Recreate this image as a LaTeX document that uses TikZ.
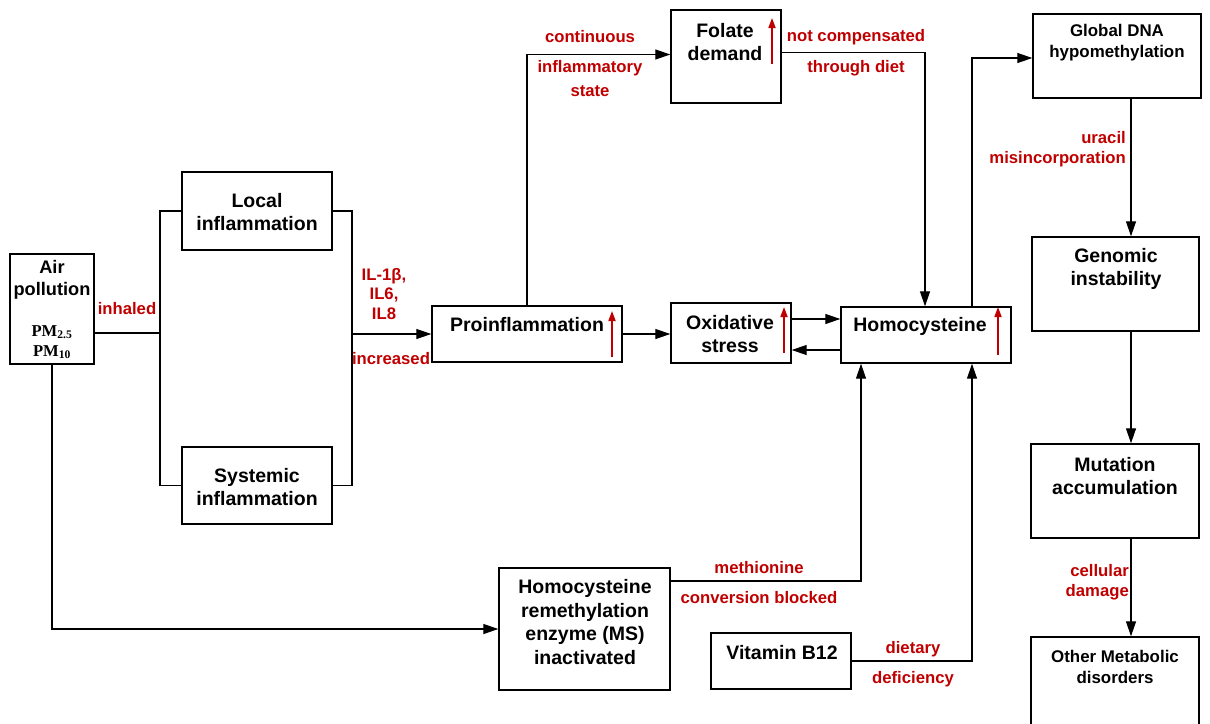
\documentclass[tikz,border=0pt]{standalone}
\usepackage{fontspec}
\setmainfont{Liberation Sans}
\newfontfamily\serifb{Liberation Serif}
\usetikzlibrary{arrows.meta,calc}
\definecolor{lbl}{RGB}{192,0,0}
\begin{document}
\begin{tikzpicture}[x=1pt,y=-1pt,
 box/.style={draw,line width=1.4pt,inner sep=0pt,fill=white},
 con/.style={line width=1.2pt},
 arr/.style={con,-{Triangle[length=15pt,width=10pt]}},
 upa/.style={draw=lbl,line width=1.7pt,-{Triangle[length=10pt,width=7pt]}},
 txt/.style={font=\fontsize{19.5}{23}\selectfont\bfseries,align=center,inner sep=0pt},
 stxt/.style={font=\fontsize{16.9}{21}\selectfont\bfseries,align=center,inner sep=0pt},
 rlab/.style={text=lbl,font=\fontsize{16.7}{19.5}\selectfont\bfseries,align=center,inner sep=0pt}]
\useasboundingbox (0,0) rectangle (1210,723);
\clip (0,0) rectangle (1210,723);

% boxes
\node[box,minimum width=84pt,minimum height=110pt] (air) at (52,309) {};
\node[box,minimum width=150pt,minimum height=78pt] (loc) at (257,211) {};
\node[box,minimum width=150pt,minimum height=77pt] (sys) at (257,485.5) {};
\node[box,minimum width=190pt,minimum height=56pt] (pro) at (527,334) {};
\node[box,minimum width=110pt,minimum height=93pt] (fol) at (726,56.5) {};
\node[box,minimum width=120pt,minimum height=60pt] (oxi) at (731,333) {};
\node[box,minimum width=170pt,minimum height=56pt] (hom) at (926,335) {};
\node[box,minimum width=168pt,minimum height=84pt] (glo) at (1117,56) {};
\node[box,minimum width=167pt,minimum height=94pt] (gen) at (1115.5,284) {};
\node[box,minimum width=168pt,minimum height=94pt] (mut) at (1115,491) {};
\node[box,minimum width=168pt,minimum height=100pt] (oth) at (1115,687) {};
\node[box,minimum width=171pt,minimum height=122pt] (rem) at (584.5,629) {};
\node[box,minimum width=140pt,minimum height=56pt] (vit) at (781,661) {};

% box texts
\node[txt,font=\fontsize{18.2}{22}\selectfont\bfseries] (airt) at (52,280) {Air\\pollution};
\node[txt,font=\fontsize{16.6}{20}\selectfont\serifb\bfseries] (pmt) at (52,342) {PM\textsubscript{2.5}\\PM\textsubscript{10}};
\node[txt] (loct) at (257,212) {Local\\inflammation};
\node[txt] (syst) at (257,487) {Systemic\\inflammation};
\node[txt] (prot) at (527,325) {Proinflammation};
\node[txt] (folt) at (725,42) {Folate\\demand};
\node[txt] (oxit) at (730,334) {Oxidative\\stress};
\node[txt] (homt) at (920,326) {Homocysteine};
\node[stxt] (glot) at (1117,43) {Global DNA\\hypomethylation};
\node[txt] (gent) at (1116,269) {Genomic\\instability};
\node[txt] (mutt) at (1115,476) {Mutation\\accumulation};
\node[stxt] (otht) at (1115,667) {Other Metabolic\\disorders};
\node[txt,font=\fontsize{19.5}{23.7}\selectfont\bfseries] (remt) at (585,622) {Homocysteine\\remethylation\\enzyme (MS)\\inactivated};
\node[txt] (vitt) at (782,653) {Vitamin B12};

% red up arrows
\draw[upa] (612,357) -- (612,311);
\draw[upa] (772,64) -- (772,18);
\draw[upa] (784,353) -- (784,307);
\draw[upa] (998,355) -- (998,307);

% connectors
\coordinate (bL) at (160,333);
\draw[con] ([yshift=-24pt]air.east) -- (bL);
\draw[con] (loc.west) -- (loc.west -| bL) -- (sys.west -| bL) -- (sys.west);
\coordinate (bR) at (352,334);
\draw[con] (loc.east) -- (loc.east -| bR) -- (sys.east -| bR) -- (sys.east);
\draw[arr] (bR) -- (pro.west);
\draw[arr] (pro.east) -- (oxi.west |- pro.east);
\draw[arr] (pro.north) |- ([yshift=2pt]fol.west);
\coordinate (fd) at (925,0);
\draw[arr] ([yshift=4pt]fol.east) -| (hom.north -| fd);
\draw[arr] ([yshift=14pt]oxi.east) -- ([yshift=14pt]oxi.east -| hom.west);
\draw[arr] ([yshift=-17pt]oxi.east -| hom.west) -- ([yshift=-17pt]oxi.east);
\coordinate (hx) at (972,0);
\draw[arr] (hom.north -| hx) |- ([yshift=-2pt]glo.west);
\coordinate (sp) at (1131,0);
\draw[arr] (glo.south -| sp) -- (gen.north -| sp);
\draw[arr] (gen.south -| sp) -- (mut.north -| sp);
\draw[arr] (mut.south -| sp) -- (oth.north -| sp);
\draw[arr] (air.south) |- (rem.west);
\coordinate (mx) at (861,0);
\draw[arr] ([yshift=48pt]rem.east) -| (hom.south -| mx);
\draw[arr] (vit.east) -| (hom.south -| hx);

% red labels
\node[rlab] (l1) at (127,309) {inhaled};
\node[rlab] (l2) at (384,294) {IL-1β,\\IL6,\\IL8};
\node[rlab] (l3) at (391,359) {increased};
\node[rlab] (l4) at (590,37) {continuous};
\node[rlab] (l5) at (590,68) {inflammatory};
\node[rlab] (l6) at (590,91) {state};
\node[rlab] (l7) at (856,37) {not compensated};
\node[rlab] (l8) at (856,68) {through diet};
\node[rlab,anchor=east,align=right] (l9) at (1126,149) {uracil\\misincorporation};
\node[rlab,anchor=east,align=right] (l10) at (1129,582) {cellular\\damage};
\node[rlab] (l11) at (759,568) {methionine};
\node[rlab] (l12) at (759,598) {conversion blocked};
\node[rlab] (l13) at (913,649) {dietary};
\node[rlab] (l14) at (913,679) {deficiency};
\end{tikzpicture}
\end{document}
